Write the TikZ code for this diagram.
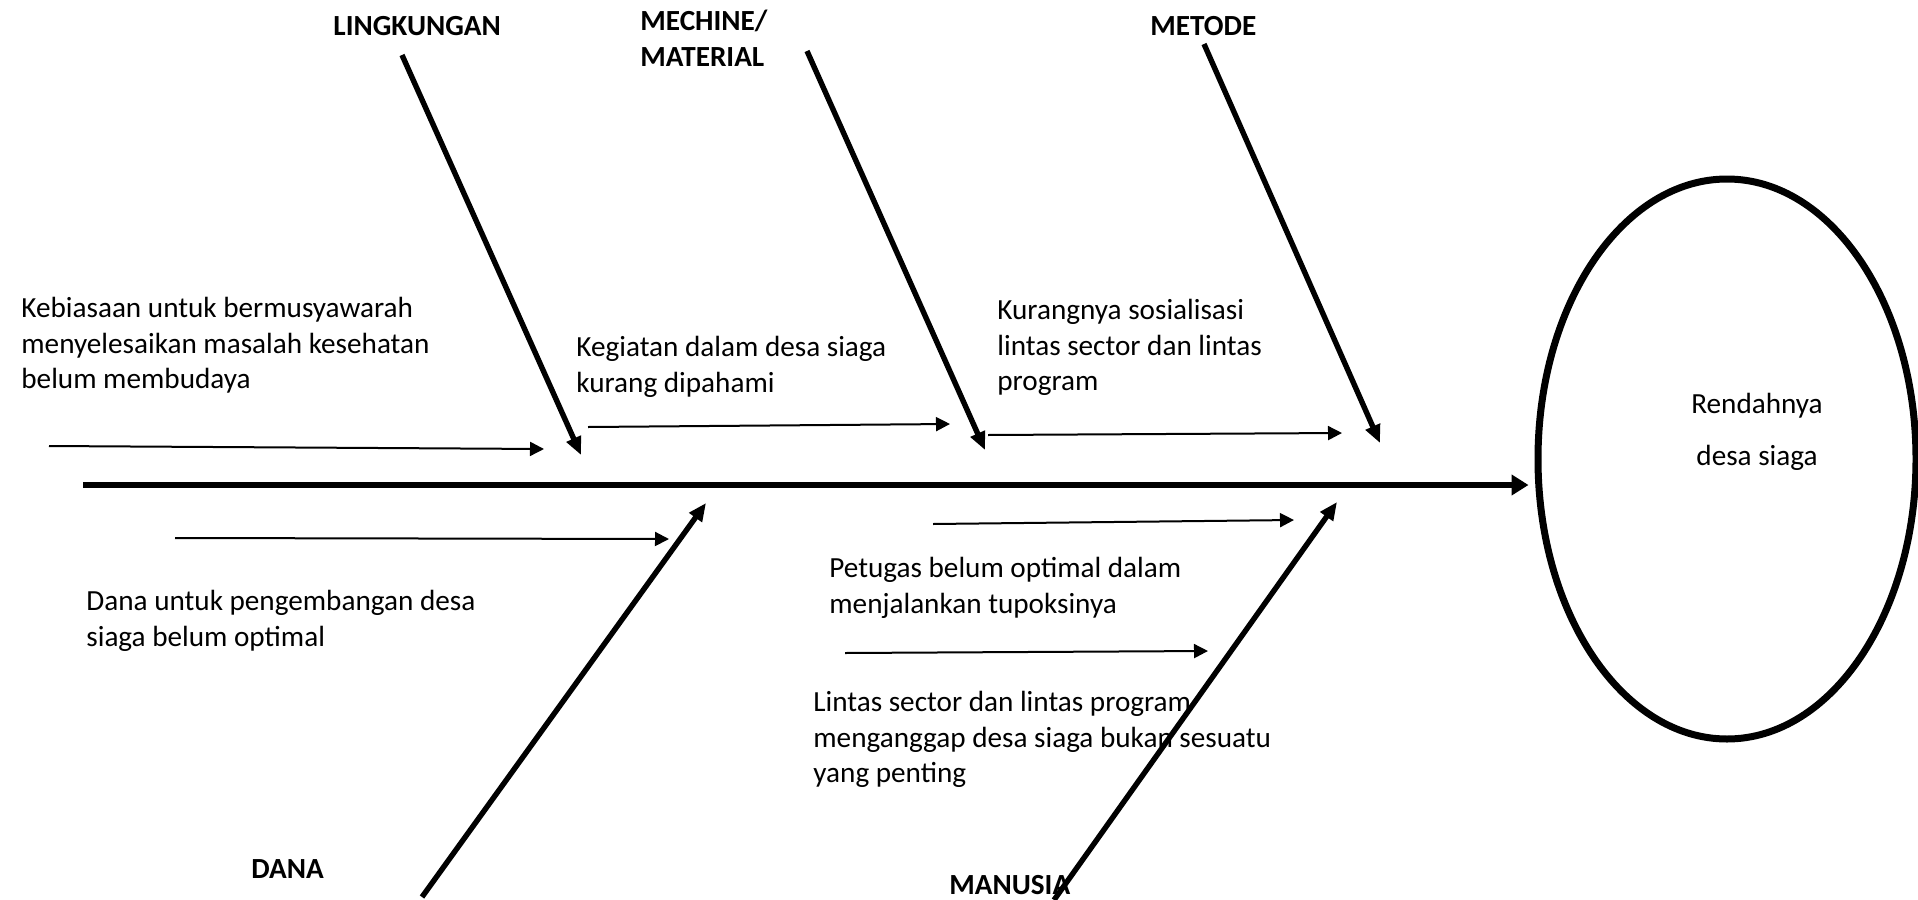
\documentclass[tikz,border=0pt]{standalone}
\usepackage{fontspec}
\setmainfont{Carlito}
\usetikzlibrary{arrows.meta,shapes.geometric}

\begin{document}
\begin{tikzpicture}[
        x=0.5pt,
        y=-0.5pt,
        spine/.style={line width=2.8pt, -{Triangle[length=8.5pt,width=10pt]}},
        bone/.style={line width=2.7pt, -{Triangle[length=9pt,width=7.5pt]}},
        cause/.style={line width=1pt, -{Triangle[length=7pt,width=7pt]}},
        cat/.style={font=\fontsize{14.6}{17.8}\selectfont\bfseries, inner sep=0pt, align=left},
        note/.style={font=\fontsize{14.6}{17.8}\selectfont, inner sep=0pt, anchor=north west, align=left},
        effect/.style={draw, ellipse, line width=3.5pt, minimum width=189pt, minimum height=280pt}
    ]
        \useasboundingbox (0,0) rectangle (1918,900);

        \node[effect] (masalah) at (1727,459) {};
        \node[align=center, inner sep=0pt, font=\fontsize{14.6}{26}\selectfont] (masalahtxt) at (1757,432) {Rendahnya\\desa siaga};

        \coordinate (ekor) at (83,485);
        \draw[spine, shorten >=3pt] (ekor) -- (ekor -| masalah.west);

        \node[cat, anchor=base west] (lingkungan) at (333,35) {LINGKUNGAN};
        \node[cat, anchor=north west] (mesin) at (640,10) {MECHINE/\\MATERIAL};
        \node[cat, anchor=base west] (metode) at (1150,35) {METODE};
        \node[cat, anchor=base west] (dana) at (251,878) {DANA};
        \node[cat, anchor=base west] (manusia) at (949,894) {MANUSIA};

        \foreach \n/\xa/\ya/\xb/\yb in {lingkungan/402/55/581/455, mesin/807/51/985/450, metode/1204/44/1380/443, dana/422/897/706/503, manusia/1054/900/1337/502}{
            \coordinate (\n-a) at (\xa,\ya);
            \coordinate (\n-b) at (\xb,\yb);
            \draw[bone] (\n-a) -- (\n-b);
        }

        \foreach \n/\xa/\ya/\xb/\yb in {c1/49/446/544/449, c2/588/427/950/424, c3/988/435/1342/433, c4/175/538/669/539, c5/933/524/1294/520, c6/845/653/1208/651}{
            \coordinate (\n-a) at (\xa,\ya);
            \coordinate (\n-b) at (\xb,\yb);
            \draw[cause] (\n-a) -- (\n-b);
        }

        \node[note] (kebiasaan) at (21,297) {Kebiasaan untuk bermusyawarah\\menyelesaikan masalah kesehatan\\belum membudaya};
        \node[note] (kegiatan) at (576,336) {Kegiatan dalam desa siaga\\kurang dipahami};
        \node[note] (sosialisasi) at (997,299) {Kurangnya sosialisasi\\lintas sector dan lintas\\program};
        \node[note] (danatxt) at (86,590) {Dana untuk pengembangan desa\\siaga belum optimal};
        \node[note] (petugas) at (829,557) {Petugas belum optimal dalam\\menjalankan tupoksinya};
        \node[note] (lintas) at (813,691) {Lintas sector dan lintas program\\menganggap desa siaga bukan sesuatu\\yang penting};
    \end{tikzpicture}
\end{document}
